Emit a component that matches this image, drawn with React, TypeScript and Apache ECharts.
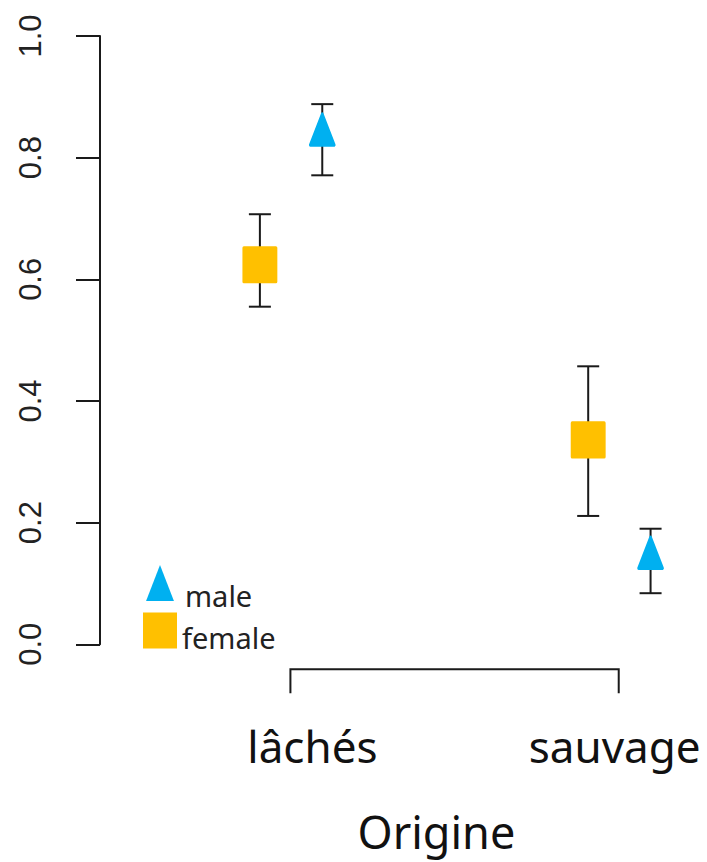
import React, { useEffect, useRef } from "react";
import * as echarts from "echarts";

// ---- data ----
const categories = ["lâchés", "sauvage"];
const maleMean = [0.837, 0.141];
const maleLower = [0.771, 0.084];
const maleUpper = [0.888, 0.19];
const femaleMean = [0.624, 0.336];
const femaleLower = [0.555, 0.211];
const femaleUpper = [0.707, 0.457];
const yTickValues = [0, 0.2, 0.4, 0.6, 0.8, 1.0];
const maleDodge = 0.097;
const femaleDodge = -0.093;

const TRI = "path://M0,31 L12,0 L24,31 Z";
const BLUE = "#00B0F0";
const YELLOW = "#FFC000";
const INK = "#1a1a1a";

export default function App() {
  const ref = useRef<HTMLDivElement>(null);
  useEffect(() => {
    document.body.style.margin = "0";
    const chart = echarts.init(ref.current!, null, { renderer: "svg" });
    const catPos = categories.map((_, i) => i + 1);
    const maleData = catPos.map((x, i) => [x + maleDodge, maleMean[i]]);
    const femaleData = catPos.map((x, i) => [x + femaleDodge, femaleMean[i]]);
    const maleErr = catPos.map((x, i) => [x + maleDodge, maleLower[i], maleUpper[i]]);
    const femaleErr = catPos.map((x, i) => [x + femaleDodge, femaleLower[i], femaleUpper[i]]);

    const errRender = (params: any, api: any) => {
      const x = api.value(0);
      const lo = api.coord([x, api.value(1)]);
      const hi = api.coord([x, api.value(2)]);
      const hw = 11;
      const style = { stroke: INK, lineWidth: 2 };
      return {
        type: "group",
        children: [
          { type: "line", shape: { x1: lo[0], y1: lo[1], x2: hi[0], y2: hi[1] }, style },
          { type: "line", shape: { x1: lo[0] - hw, y1: lo[1], x2: lo[0] + hw, y2: lo[1] }, style },
          { type: "line", shape: { x1: hi[0] - hw, y1: hi[1], x2: hi[0] + hw, y2: hi[1] }, style },
        ],
      };
    };

    const bracketRender = (params: any, api: any) => {
      const a = api.coord([catPos[0], 0]);
      const b = api.coord([catPos[catPos.length - 1], 0]);
      const y = a[1] + 25;
      return {
        type: "polyline",
        shape: { points: [[a[0], y + 24], [a[0], y], [b[0], y], [b[0], y + 24]] },
        style: { stroke: INK, lineWidth: 2, fill: null },
      };
    };

    chart.setOption({
      animation: false,
      grid: { left: 100, right: 6.2, top: 36, bottom: 217.7, outerBoundsMode: "none", containLabel: false },
      legend: {
        left: 143,
        top: 565,
        orient: "vertical",
        padding: 0,
        itemWidth: 34,
        itemHeight: 36,
        itemGap: 3,
        selectedMode: false,
        itemStyle: { borderWidth: 0 },
        formatter: (name: string) => (name === "male" ? `{m|${name}}` : `{f|${name}}`),
        textStyle: {
          fontFamily: "Noto Sans",
          fontSize: 29,
          color: "#222",
          rich: {
            m: { fontFamily: "Noto Sans", fontSize: 29, color: "#222", padding: [24, 0, 0, 3] },
            f: { fontFamily: "Noto Sans", fontSize: 29, color: "#222", padding: [14, 0, 0, 0] },
          },
        },
        data: [
          { name: "male", icon: TRI },
          { name: "female", icon: "rect" },
        ],
      },
      xAxis: {
        type: "value",
        min: 0.42,
        max: 2.25,
        offset: 25,
        axisLine: { show: false },
        axisTick: { show: false },
        splitLine: { show: false },
        axisLabel: {
          customValues: catPos,
          margin: 55,
          fontFamily: "Noto Sans",
          fontSize: 44,
          lineHeight: 44,
          color: "#111",
          formatter: (v: number) => {
            const i = Math.round(v) - 1;
            return i === 0 ? `{a|${categories[i]}}` : `{b|${categories[i]}}`;
          },
          rich: {
            a: { fontFamily: "Noto Sans", fontSize: 44, lineHeight: 44, color: "#111", padding: [0, 0, 0, 44] },
            b: { fontFamily: "Noto Sans", fontSize: 44, lineHeight: 44, color: "#111", padding: [0, 8, 0, 0] },
          },
        },
        name: "Origine",
        nameLocation: "middle",
        nameGap: 140,
        nameTextStyle: { fontFamily: "Noto Sans", fontSize: 45, lineHeight: 45, color: "#111", padding: [0, 0, 0, 72] },
      },
      yAxis: {
        type: "value",
        min: 0,
        max: 1,
        interval: 0.2,
        axisLine: { show: true, lineStyle: { color: INK, width: 2 } },
        axisTick: { show: true, length: 24, lineStyle: { color: INK, width: 2 }, customValues: yTickValues },
        splitLine: { show: false },
        axisLabel: {
          rotate: 90,
          margin: 54,
          fontFamily: "Liberation Sans",
          fontSize: 31,
          color: "#222",
          customValues: yTickValues,
          formatter: (v: number) => v.toFixed(1),
        },
      },
      series: [
        { type: "custom", name: "bracket", data: [[0]], renderItem: bracketRender, clip: false, silent: true, z: 1 },
        { type: "custom", name: "male CI", data: maleErr, renderItem: errRender, encode: { x: 0, y: [1, 2] }, z: 2, silent: true },
        { type: "custom", name: "female CI", data: femaleErr, renderItem: errRender, encode: { x: 0, y: [1, 2] }, z: 2, silent: true },
        {
          type: "scatter",
          name: "male",
          data: maleData,
          symbol: TRI,
          symbolKeepAspect: false,
          symbolSize: [24, 31],
          symbolOffset: [0, -5.7],
          itemStyle: { color: BLUE, opacity: 1, borderColor: BLUE, borderWidth: 3, borderJoin: "round" },
          z: 3,
        },
        {
          type: "scatter",
          name: "female",
          data: femaleData,
          symbol: "rect",
          symbolSize: [32, 34],
          itemStyle: { color: YELLOW, opacity: 1, borderColor: YELLOW, borderWidth: 3, borderJoin: "round" },
          z: 3,
        },
      ],
    });
    return () => chart.dispose();
  }, []);
  return <div ref={ref} style={{ width: 707, height: 862 }} />;
}
